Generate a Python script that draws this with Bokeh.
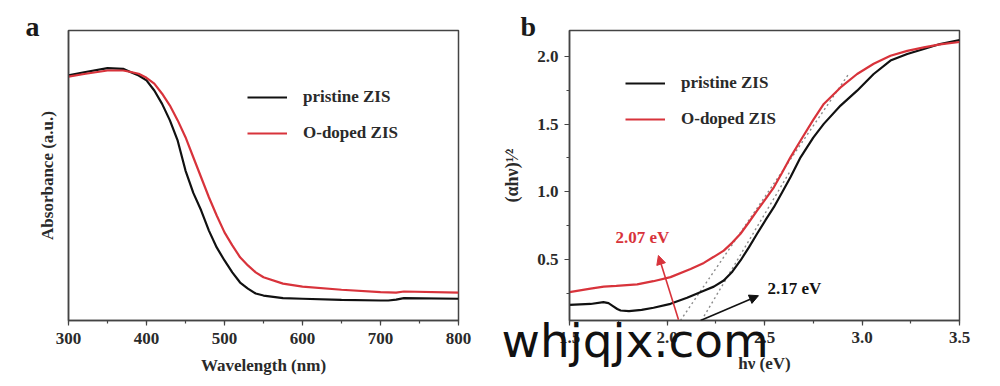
import math
from bokeh.plotting import figure
from bokeh.layouts import row
from bokeh.models import (Range1d, SingleIntervalTicker, FixedTicker, Legend, LegendItem,
                          Title, Arrow, NormalHead, ColumnDataSource, PrintfTickFormatter)
from bokeh.embed import file_html
from bokeh.resources import INLINE
from bokeh.core.properties import value

# ---------------- data: panel a ----------------
wavelength = [300, 320, 350, 370, 380, 390, 400, 410, 420, 430, 440, 450, 460, 470, 480,
              490, 500, 510, 520, 530, 540, 550, 575, 600, 650, 700, 710, 720, 730, 800]
abs_pristine = [0.845, 0.856, 0.870, 0.868, 0.856, 0.845, 0.828, 0.793, 0.747, 0.690, 0.620,
                0.517, 0.440, 0.380, 0.310, 0.252, 0.207, 0.166, 0.131, 0.110, 0.093, 0.086,
                0.077, 0.075, 0.071, 0.069, 0.069, 0.072, 0.077, 0.075]
abs_odoped = [0.841, 0.850, 0.862, 0.862, 0.857, 0.851, 0.837, 0.817, 0.782, 0.741, 0.690,
              0.632, 0.563, 0.494, 0.425, 0.362, 0.304, 0.259, 0.218, 0.190, 0.166, 0.149,
              0.127, 0.117, 0.106, 0.098, 0.097, 0.096, 0.100, 0.096]

# ---------------- data: panel b ----------------
ev_pristine = [1.500, 1.608, 1.674, 1.700, 1.719, 1.745, 1.762, 1.805, 1.870, 1.931, 2.018,
               2.103, 2.189, 2.240, 2.291, 2.335, 2.377, 2.420, 2.462, 2.505, 2.548, 2.590,
               2.633, 2.685, 2.750, 2.804, 2.890, 2.975, 3.060, 3.146, 3.232, 3.317, 3.400, 3.500]
tauc_pristine = [0.166, 0.172, 0.185, 0.178, 0.160, 0.135, 0.124, 0.119, 0.128, 0.144, 0.173,
                 0.218, 0.270, 0.300, 0.345, 0.410, 0.493, 0.590, 0.690, 0.790, 0.886, 0.995,
                 1.107, 1.254, 1.400, 1.501, 1.636, 1.746, 1.869, 1.968, 2.017, 2.054, 2.090, 2.120]
ev_odoped = [1.500, 1.608, 1.676, 1.740, 1.847, 1.930, 2.018, 2.121, 2.189, 2.240, 2.291,
             2.335, 2.377, 2.420, 2.462, 2.505, 2.548, 2.590, 2.633, 2.685, 2.750, 2.804,
             2.890, 2.975, 3.060, 3.146, 3.232, 3.317, 3.400, 3.500]
tauc_odoped = [0.259, 0.285, 0.300, 0.305, 0.316, 0.340, 0.370, 0.430, 0.475, 0.520, 0.566,
               0.625, 0.690, 0.775, 0.861, 0.945, 1.033, 1.140, 1.254, 1.378, 1.530, 1.648,
               1.770, 1.869, 1.945, 2.004, 2.040, 2.066, 2.088, 2.105]

# tangent (extrapolation) lines
tangent_odoped_x = [2.069, 2.932]
tangent_odoped_y = [0.05, 1.87]
tangent_pristine_x = [2.177, 2.633]
tangent_pristine_y = [0.05, 1.156]

# annotations
gap_labels = ["2.07 eV", "2.17 eV"]
gap_label_x = [1.736, 2.515]
gap_label_y = [0.663, 0.285]
arrow_x_start = [2.059, 2.172]
arrow_y_start = [0.055, 0.05]
arrow_x_end = [1.956, 2.469]
arrow_y_end = [0.530, 0.233]

legend_labels = ["pristine ZIS", "O-doped ZIS"]
panel_letters = ["a", "b"]
watermark = "whjqjx.com"

BLACK = "#111111"
RED = "#d8333b"
TXT = "#2a2a2a"
SERIF = "Liberation Serif"


def style(p):
    p.background_fill_color = "white"
    p.border_fill_color = "white"
    p.grid.grid_line_color = None
    p.outline_line_color = "#444444"
    p.outline_line_width = 1.5
    p.outline_line_alpha = 1.0
    for ax in p.axis:
        ax.axis_line_color = "#444444"
        ax.axis_line_width = 1.5
        ax.major_tick_line_color = "#444444"
        ax.minor_tick_line_color = "#444444"
        ax.major_tick_line_width = 1.2
        ax.minor_tick_line_width = 1.2
        ax.major_tick_out = 5
        ax.major_tick_in = 0
        ax.minor_tick_out = 3
        ax.minor_tick_in = 0
        ax.major_label_text_font = SERIF
        ax.major_label_text_font_style = "bold"
        ax.major_label_text_font_size = "17px"
        ax.major_label_text_color = TXT
        ax.axis_label_text_font = SERIF
        ax.axis_label_text_font_style = "bold"
        ax.axis_label_text_font_size = "17px"
        ax.axis_label_text_color = TXT


def make_legend(p, r1, r2, loc):
    leg = Legend(items=[LegendItem(label=legend_labels[0], renderers=[r1]),
                        LegendItem(label=legend_labels[1], renderers=[r2])],
                 location=loc)
    leg.label_text_font = SERIF
    leg.label_text_font_style = "bold"
    leg.label_text_font_size = "17px"
    leg.label_text_color = TXT
    leg.glyph_width = 40
    leg.glyph_height = 20
    leg.label_height = 20
    leg.label_standoff = 16
    leg.spacing = 16
    leg.padding = 0
    leg.margin = 0
    leg.border_line_color = None
    leg.background_fill_alpha = 0
    p.add_layout(leg)


def letter(p, txt, offset):
    t = Title(text=txt, align="left", offset=offset, text_font=SERIF, text_font_style="bold",
              text_font_size="28px", text_color="#1a1a1a", standoff=-22)
    p.add_layout(t, "above")


# ---------------- panel a ----------------
pa = figure(width=488, height=378, output_backend="svg", toolbar_location=None,
            x_range=Range1d(300, 800), y_range=Range1d(0, 1),
            min_border_left=68, min_border_right=30, min_border_top=30, min_border_bottom=58)
ra1 = pa.line(wavelength, abs_pristine, line_color=BLACK, line_width=2.2)
ra2 = pa.line(wavelength, abs_odoped, line_color=RED, line_width=2.2)
style(pa)
pa.xaxis.ticker = SingleIntervalTicker(interval=100, num_minor_ticks=2)
pa.yaxis.ticker = FixedTicker(ticks=[])
pa.yaxis.major_tick_out = 0
pa.yaxis.minor_tick_out = 0
pa.xaxis.axis_label = "Wavelength (nm)"
pa.yaxis.axis_label = "Absorbance (a.u.)"
pa.xaxis.major_label_standoff = 7
pa.xaxis.axis_label_standoff = 9
pa.yaxis.axis_label_standoff = 12
make_legend(pa, ra1, ra2, (179, 177))
letter(pa, panel_letters[0], -43)

# ---------------- panel b ----------------
pb = figure(width=504, height=378, output_backend="svg", toolbar_location=None,
            x_range=Range1d(1.5, 3.5), y_range=Range1d(0.05, 2.19),
            min_border_left=81, min_border_right=33, min_border_top=30, min_border_bottom=58)
pb.line(tangent_odoped_x, tangent_odoped_y, line_color="#8a8a8a", line_width=1.4, line_dash="2 3")
pb.line(tangent_pristine_x, tangent_pristine_y, line_color="#8a8a8a", line_width=1.4, line_dash="2 3")
rb1 = pb.line(ev_pristine, tauc_pristine, line_color=BLACK, line_width=2.2)
rb2 = pb.line(ev_odoped, tauc_odoped, line_color=RED, line_width=2.2)
style(pb)
pb.xaxis.ticker = SingleIntervalTicker(interval=0.5, num_minor_ticks=2)
pb.yaxis.ticker = SingleIntervalTicker(interval=0.5, num_minor_ticks=2)
pb.xaxis.formatter = PrintfTickFormatter(format="%.1f")
pb.yaxis.formatter = PrintfTickFormatter(format="%.1f")
pb.xaxis.axis_label = "hν (eV)"
pb.yaxis.axis_label = "(αhν)¹⁄²"
pb.yaxis.axis_label_text_font_size = "18px"
pb.xaxis.major_label_standoff = 6
pb.xaxis.axis_label_standoff = 8
pb.yaxis.major_label_standoff = 6
pb.yaxis.axis_label_standoff = 12
make_legend(pb, rb1, rb2, (56, 191))
letter(pb, panel_letters[1], -49)

arrow_colors = [RED, BLACK]
for i in range(2):
    pb.add_layout(Arrow(end=NormalHead(size=9, fill_color=arrow_colors[i], line_color=arrow_colors[i]),
                        x_start=arrow_x_start[i], y_start=arrow_y_start[i],
                        x_end=arrow_x_end[i], y_end=arrow_y_end[i],
                        line_color=arrow_colors[i], line_width=1.6))
src = ColumnDataSource(dict(x=gap_label_x, y=gap_label_y, t=gap_labels, c=arrow_colors))
pb.text(x="x", y="y", text="t", text_color="c", source=src, text_font=value(SERIF),
        text_font_style="bold", text_font_size="17px", text_align="left", text_baseline="middle")

# watermark drawn as a title pulled up over the axis area
wm = Title(text=watermark, align="left", offset=-68, vertical_align="top", text_font="DejaVu Sans",
           text_font_style="normal", text_font_size="47px", text_color="#111111", standoff=-126)
pb.add_layout(wm, "below")

layout = row(pa, pb)
open("out.html", "w").write(file_html(layout, INLINE))
